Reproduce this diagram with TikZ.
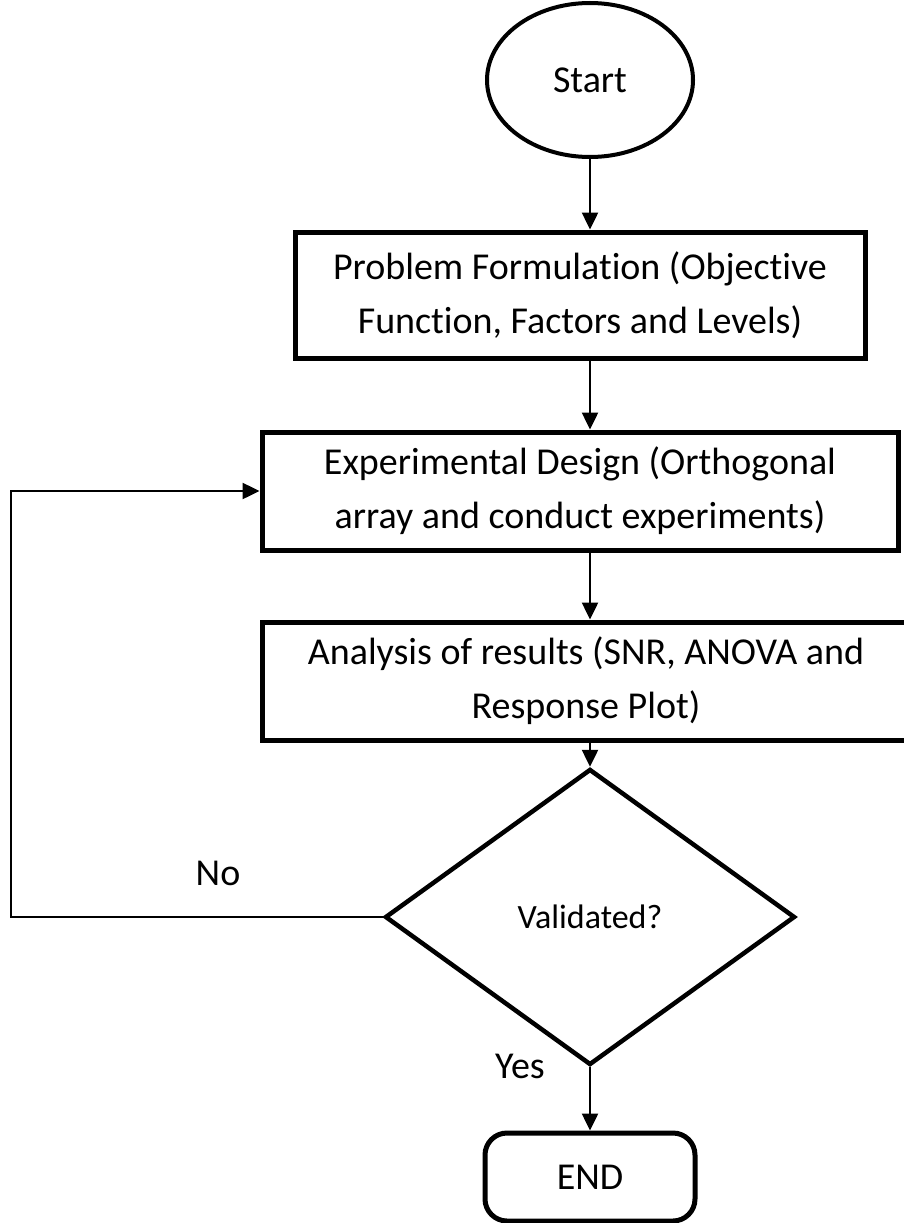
\documentclass[tikz,border=0pt]{standalone}
\usepackage{fontspec}
\setmainfont{Carlito}[Ligatures={NoCommon}]
\usetikzlibrary{shapes.geometric,arrows.meta}
\begin{document}
\begin{tikzpicture}[x=1pt,y=-1pt,
  txt/.style={font=\fontsize{38}{54}\selectfont},
  box/.style={draw,line width=5pt,inner sep=0pt,align=center,txt},
  conn/.style={line width=2.5pt,-{Triangle[length=17pt,width=16pt]}},
  lbl/.style={txt,inner sep=0pt}]
\useasboundingbox (0,0) rectangle (904,1223);
\node[box,ellipse,line width=4pt,minimum width=206pt,minimum height=154pt] (start) at (590,80) {Start};
\node[box,minimum width=570pt,minimum height=126pt] (b1) at (580,295) {Problem Formulation (Objective\\Function, Factors and Levels)};
\node[box,minimum width=636pt,minimum height=118pt] (b2) at (580,491) {Experimental Design (Orthogonal\\array and conduct experiments)};
\node[box,minimum width=648pt,minimum height=118pt] (b3) at (586,681) {Analysis of results (SNR, ANOVA and\\Response Plot)};
\node[box,diamond,line width=4.5pt,minimum width=410pt,minimum height=296pt,font=\fontsize{34}{40}\selectfont] (dec) at (590,917) {Validated?};
\node[box,rounded corners=22pt,minimum width=210pt,minimum height=88pt] (end) at (590,1177) {END};
\node[lbl] (no) at (218,873) {No};
\node[lbl] (yes) at (520,1066) {Yes};
\draw[conn] (start.south) -- (start.south |- b1.north);
\draw[conn] (b1.south -| start.south) -- (b2.north -| start.south);
\draw[conn] (b2.south -| start.south) -- (b3.north -| start.south);
\draw[conn] (b3.south -| start.south) -- (dec.north);
\draw[conn] (dec.south) -- (end.north);
\draw[conn] (dec.west) -- ++(-372,0) |- (b2.west);
\end{tikzpicture}
\end{document}
